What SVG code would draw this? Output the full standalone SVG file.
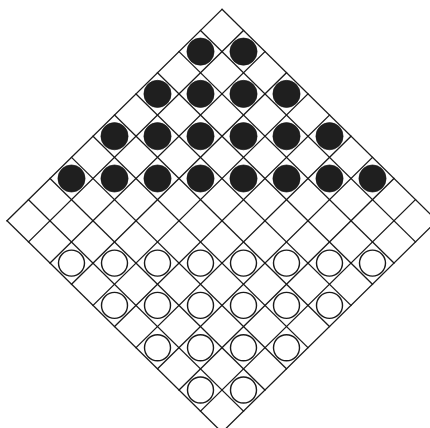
<svg xmlns="http://www.w3.org/2000/svg" xmlns:xlink="http://www.w3.org/1999/xlink" width="430" height="428" viewBox="0 0 430 428">
<style>
.grid line{stroke:#1a1a1a;stroke-width:1.3;stroke-linecap:square}
.b{fill:#1f1f1f;stroke:#111;stroke-width:0.6}
.w{fill:#fff;stroke:#1a1a1a;stroke-width:1.4}
</style>
<defs>
<circle id="bp" class="b" r="13.6"/>
<circle id="wp" class="w" r="13"/>
</defs>
<rect width="430" height="428" fill="#fff"/>
<g id="board" class="grid">
<line x1="222" y1="9.3" x2="437" y2="220.8"/>
<line x1="200.5" y1="30.45" x2="415.5" y2="241.95"/>
<line x1="179" y1="51.6" x2="394" y2="263.1"/>
<line x1="157.5" y1="72.75" x2="372.5" y2="284.25"/>
<line x1="136" y1="93.9" x2="351" y2="305.4"/>
<line x1="114.5" y1="115.05" x2="329.5" y2="326.55"/>
<line x1="93" y1="136.2" x2="308" y2="347.7"/>
<line x1="71.5" y1="157.35" x2="286.5" y2="368.85"/>
<line x1="50" y1="178.5" x2="265" y2="390"/>
<line x1="28.5" y1="199.65" x2="243.5" y2="411.15"/>
<line x1="7" y1="220.8" x2="222" y2="432.3"/>
<line x1="222" y1="9.3" x2="7" y2="220.8"/>
<line x1="243.5" y1="30.45" x2="28.5" y2="241.95"/>
<line x1="265" y1="51.6" x2="50" y2="263.1"/>
<line x1="286.5" y1="72.75" x2="71.5" y2="284.25"/>
<line x1="308" y1="93.9" x2="93" y2="305.4"/>
<line x1="329.5" y1="115.05" x2="114.5" y2="326.55"/>
<line x1="351" y1="136.2" x2="136" y2="347.7"/>
<line x1="372.5" y1="157.35" x2="157.5" y2="368.85"/>
<line x1="394" y1="178.5" x2="179" y2="390"/>
<line x1="415.5" y1="199.65" x2="200.5" y2="411.15"/>
<line x1="437" y1="220.8" x2="222" y2="432.3"/>
</g>
<g id="black-pieces">
<use xlink:href="#bp" x="200.5" y="51.6"/><use xlink:href="#bp" x="243.5" y="51.6"/>
<use xlink:href="#bp" x="157.5" y="93.9"/><use xlink:href="#bp" x="200.5" y="93.9"/><use xlink:href="#bp" x="243.5" y="93.9"/><use xlink:href="#bp" x="286.5" y="93.9"/>
<use xlink:href="#bp" x="114.5" y="136.2"/><use xlink:href="#bp" x="157.5" y="136.2"/><use xlink:href="#bp" x="200.5" y="136.2"/><use xlink:href="#bp" x="243.5" y="136.2"/><use xlink:href="#bp" x="286.5" y="136.2"/><use xlink:href="#bp" x="329.5" y="136.2"/>
<use xlink:href="#bp" x="71.5" y="178.5"/><use xlink:href="#bp" x="114.5" y="178.5"/><use xlink:href="#bp" x="157.5" y="178.5"/><use xlink:href="#bp" x="200.5" y="178.5"/><use xlink:href="#bp" x="243.5" y="178.5"/><use xlink:href="#bp" x="286.5" y="178.5"/><use xlink:href="#bp" x="329.5" y="178.5"/><use xlink:href="#bp" x="372.5" y="178.5"/>
</g>
<g id="white-pieces">
<use xlink:href="#wp" x="71.5" y="263.1"/><use xlink:href="#wp" x="114.5" y="263.1"/><use xlink:href="#wp" x="157.5" y="263.1"/><use xlink:href="#wp" x="200.5" y="263.1"/><use xlink:href="#wp" x="243.5" y="263.1"/><use xlink:href="#wp" x="286.5" y="263.1"/><use xlink:href="#wp" x="329.5" y="263.1"/><use xlink:href="#wp" x="372.5" y="263.1"/>
<use xlink:href="#wp" x="114.5" y="305.4"/><use xlink:href="#wp" x="157.5" y="305.4"/><use xlink:href="#wp" x="200.5" y="305.4"/><use xlink:href="#wp" x="243.5" y="305.4"/><use xlink:href="#wp" x="286.5" y="305.4"/><use xlink:href="#wp" x="329.5" y="305.4"/>
<use xlink:href="#wp" x="157.5" y="347.7"/><use xlink:href="#wp" x="200.5" y="347.7"/><use xlink:href="#wp" x="243.5" y="347.7"/><use xlink:href="#wp" x="286.5" y="347.7"/>
<use xlink:href="#wp" x="200.5" y="390"/><use xlink:href="#wp" x="243.5" y="390"/>
</g>
</svg>
